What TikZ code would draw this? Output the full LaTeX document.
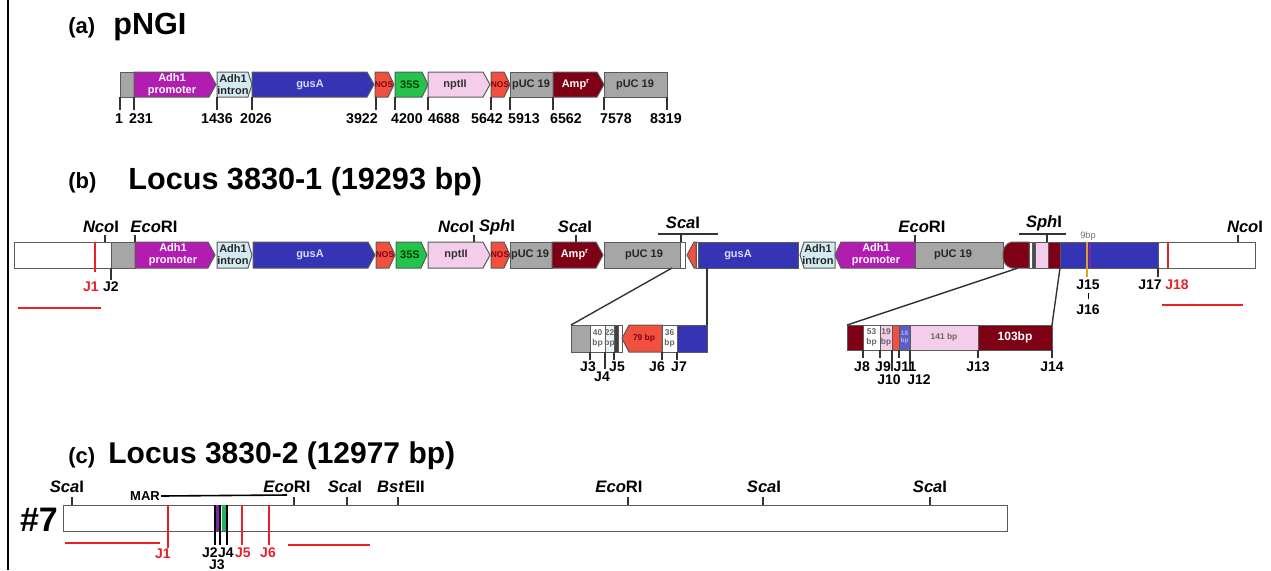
\documentclass[tikz,border=0pt]{standalone}
\usepackage{fontspec}
\setmainfont{Liberation Sans}
\definecolor{outl}{HTML}{5A5A5A}
\definecolor{gbar}{HTML}{A6A6A6}
\definecolor{mag}{HTML}{B21CB0}
\definecolor{intr}{HTML}{D4EAF2}
\definecolor{gus}{HTML}{3434B4}
\definecolor{nos}{HTML}{F2503E}
\definecolor{grn}{HTML}{24C34C}
\definecolor{npt}{HTML}{F3CDEA}
\definecolor{amp}{HTML}{7E0014}
\definecolor{jred}{HTML}{E8202A}
\definecolor{purp}{HTML}{7A2AA0}
\definecolor{cgrn}{HTML}{2AB060}
\definecolor{jor}{HTML}{E0A030}
\newcommand\segB[5]{\filldraw[fill=#5,draw=outl,line width=0.5pt] (#1,#3) rectangle (#2,#4);}
\newcommand\segR[6]{\filldraw[fill=#6,draw=outl,line width=0.5pt] (#1,#3) -- ({#2-#5},#3) -- (#2,{(#3+#4)/2}) -- ({#2-#5},#4) -- (#1,#4) -- cycle;}
\newcommand\segL[6]{\filldraw[fill=#6,draw=outl,line width=0.5pt] (#2,#3) -- ({#1+#5},#3) -- (#1,{(#3+#4)/2}) -- ({#1+#5},#4) -- (#2,#4) -- cycle;}
\begin{document}
\begin{tikzpicture}[x=0.5pt,y=-0.5pt,
  ttl/.style={font=\bfseries\fontsize{15.3}{17}\selectfont, inner sep=0, anchor=west},
  sub/.style={font=\bfseries\fontsize{11}{12}\selectfont, inner sep=0},
  inl/.style={font=\bfseries\fontsize{5.5}{6}\selectfont, inner sep=0, align=center},
  tiny/.style={font=\bfseries\fontsize{4.2}{4.6}\selectfont, inner sep=0, align=center},
  num/.style={font=\bfseries\fontsize{7.1}{8}\selectfont, inner sep=0},
  jl/.style={font=\bfseries\fontsize{7}{8}\selectfont, inner sep=0},
  enz/.style={font=\bfseries\fontsize{8.3}{9}\selectfont, inner sep=0},
  tk/.style={draw=black!80, line width=0.7pt},
  rl/.style={draw=jred, line width=0.8pt},
  cn/.style={draw=black!80, line width=0.7pt}]
\useasboundingbox (0,0) rectangle (1271,570);
\draw[line width=1pt] (8,0) -- (8,570);

% ---------------- (a)
\node[sub, anchor=west] (la) at (68,28) {(a)};
\node[ttl] (ta) at (113,27) {pNGI};
\segB{120}{134}{72}{97}{gbar}
\segR{134}{216}{72}{97}{7}{mag}
\segR{217}{252}{72}{97}{4}{intr}
\segR{252}{374}{72}{97}{7}{gus}
\segR{375}{394}{72}{97}{6}{nos}
\segR{395}{428}{72}{97}{6}{grn}
\segR{428}{490}{72}{97}{7}{npt}
\segR{491}{510}{72}{97}{6}{nos}
\segB{510}{553}{72}{97}{gbar}
\segR{553}{604}{72}{97}{7}{amp}
\segB{604}{667}{72}{97}{gbar}
\node[inl, text=white] (a1) at (172,84.5) {Adh1\\promoter};
\node[inl, text=black!85] (a2) at (233,84.5) {Adh1\\intron};
\node[inl, text=blue!15] (a3) at (310,84.5) {gusA};
\node[tiny, text=amp] (a4) at (384,84.5) {NOS};
\node[inl, text=green!25!black] (a5) at (410,84.5) {35S};
\node[inl, text=black!80] (a6) at (455,84.5) {nptII};
\node[tiny, text=amp] (a7) at (500,84.5) {NOS};
\node[inl, text=black!85] (a8) at (531,84.5) {pUC 19};
\node[inl, text=white] (a9) at (576,84.5) {Amp\textsuperscript{r}};
\node[inl, text=black!85] (a10) at (635,84.5) {pUC 19};
\foreach \x in {120,134,217,252,376,395,428,491,510,553,604,667}
  \draw[tk] (\x,97) -- (\x,110);
\foreach \x/\t in {119/1,141/231,217/1436,256/2026,362/3922,407/4200,444/4688,487/5642,524/5913,566/6562,616/7578,666/8319}
  \node[num] (n\t) at (\x,119) {\t};

% ---------------- (b)
\node[sub, anchor=west] (lb) at (68,183) {(b)};
\node[ttl] (tb) at (128,182) {Locus 3830-1 (19293 bp)};
\segB{14}{111}{242}{268}{white}
\segB{111}{135}{242}{268}{gbar}
\segR{135}{215}{242}{268}{7}{mag}
\segR{217}{252}{242}{268}{4}{intr}
\segR{253}{375}{242}{268}{7}{gus}
\segR{376}{395}{242}{268}{6}{nos}
\segR{396}{427}{242}{268}{6}{grn}
\segR{428}{490}{242}{268}{7}{npt}
\segR{491}{510}{242}{268}{6}{nos}
\segB{510}{552}{242}{268}{gbar}
\segR{552}{603}{242}{268}{7}{amp}
\segB{604}{680}{242}{268}{gbar}
\segB{680}{685}{242}{268}{white}
\segL{687}{696}{242}{268}{7}{nos}
\segB{696}{698}{242}{268}{white}
\segB{698}{798}{242}{268}{gus}
\segL{800}{835}{242}{268}{4}{intr}
\segL{835}{915}{242}{268}{6}{mag}
\segB{915}{1003}{242}{268}{gbar}
\filldraw[fill=amp, draw=outl, line width=0.5pt] (1029,242) -- (1012,242) .. controls (1004,244) and (1003,250) .. (1003,255) .. controls (1003,260) and (1004,266) .. (1012,268) -- (1029,268) -- cycle;
\segB{1029}{1032}{242}{268}{white}
\segB{1032}{1035}{242}{268}{black!70}
\segB{1035}{1048}{242}{268}{npt}
\segB{1048}{1060}{242}{268}{amp}
\segB{1060}{1158}{242}{268}{gus}
\segB{1158}{1255}{242}{268}{white}
\node[inl, text=white] (b1) at (173,255) {Adh1\\promoter};
\node[inl, text=black!85] (b2) at (233,255) {Adh1\\intron};
\node[inl, text=blue!15] (b3) at (310,255) {gusA};
\node[tiny, text=amp] (b4) at (385,255) {NOS};
\node[inl, text=green!25!black] (b5) at (410,255) {35S};
\node[inl, text=black!80] (b6) at (456,255) {nptII};
\node[tiny, text=amp] (b7) at (500,255) {NOS};
\node[inl, text=black!85] (b8) at (530,255) {pUC 19};
\node[inl, text=white] (b9) at (575,255) {Amp\textsuperscript{r}};
\node[inl, text=black!85] (b10) at (644,255) {pUC 19};
\node[inl, text=blue!15] (b11) at (738,255) {gusA};
\node[inl, text=black!85] (b12) at (818,255) {Adh1\\intron};
\node[inl, text=white] (b13) at (876,255) {Adh1\\promoter};
\node[inl, text=black!85] (b14) at (953,255) {pUC 19};
% enzyme sites
\foreach \x in {105,135,474,576,915,1238}
  \draw[tk] (\x,235) -- (\x,242);
\draw[tk] (658,234) -- (718,234);
\draw[tk] (681,234) -- (681,242);
\draw[tk] (1019,234) -- (1066,234);
\draw[tk] (1047,234) -- (1047,242);
\node[enz] (e1) at (101,227) {\textit{Nco}I};
\node[enz] (e2) at (154,227) {\textit{Eco}RI};
\node[enz] (e3) at (456,227) {\textit{Nco}I};
\node[enz] (e4) at (497,227) {\textit{Sph}I};
\node[enz] (e5) at (575,227) {\textit{Sca}I};
\node[enz] (e6) at (683,223) {\textit{Sca}I};
\node[enz] (e7) at (922,227) {\textit{Eco}RI};
\node[enz] (e8) at (1044,223) {\textit{Sph}I};
\node[enz] (e9) at (1245,227) {\textit{Nco}I};
% junctions
\draw[rl] (95,242) -- (95,272);
\draw[tk] (111,268) -- (111,280);
\node[jl, text=jred] (j1) at (91,287) {J1};
\node[jl] (j2) at (111,287) {J2};
\draw[line width=0.8pt, draw=jor] (1087,242) -- (1087,277);
\draw[line width=0.8pt, draw=purp] (1090,242) -- (1090,268);
\node[font=\fontsize{4.6}{5}\selectfont, text=black!55, inner sep=0] (bp9) at (1088,236) {9bp};
\node[jl] (j15) at (1088,285) {J15};
\draw[line width=0.4pt] (1088,293) -- (1088,299);
\node[jl] (j16) at (1088,310) {J16};
\draw[tk] (1158,268) -- (1158,277);
\draw[rl] (1168,242) -- (1168,268);
\node[jl] (j17) at (1150,285) {J17};
\node[jl, text=jred] (j18) at (1177,285) {J18};
\draw[rl, line width=1pt] (18,308) -- (101,308);
\draw[rl, line width=1pt] (1162,305) -- (1243,305);

% left inset
\segB{571}{590}{325}{352}{gbar}
\segB{590}{605}{325}{352}{white}
\segB{605}{614}{325}{352}{intr!50}
\segB{614}{618}{325}{352}{black!75}
\segB{618}{622}{325}{352}{white}
\segL{622}{662}{325}{352}{7}{nos}
\segB{662}{677}{325}{352}{white}
\segB{677}{707}{325}{352}{gus}
\node[tiny, text=black!60] (i1) at (597.5,338.5) {40\\bp};
\node[tiny, text=black!60] (i2) at (609.5,338.5) {22\\bp};
\node[tiny, text=amp] (i3) at (644,338.5) {79 bp};
\node[tiny, text=black!60] (i4) at (669.5,338.5) {36\\bp};
\coordinate (cL1) at (672,268);
\coordinate (cL2) at (707,268);
\coordinate (iL1) at (571,325);
\coordinate (iL2) at (707,325);
\draw[cn] (cL1) -- (iL1);
\draw[cn] (cL2) -- (iL2);
\foreach \x/\y in {590/360,605/369,614/360,662/360,677/360}
  \draw[tk] (\x,352) -- (\x,\y);
\node[jl] (j3) at (588,367) {J3};
\node[jl] (j4) at (602,377) {J4};
\node[jl] (j5) at (617,367) {J5};
\node[jl] (j6) at (657,367) {J6};
\node[jl] (j7) at (679,367) {J7};

% right inset
\segB{847}{863}{325}{350}{amp}
\segB{863}{880}{325}{350}{white}
\segB{880}{892}{325}{350}{npt}
\segB{892}{899}{325}{350}{nos}
\segB{899}{910}{325}{350}{gus!80}
\segB{910}{978}{325}{350}{npt}
\segB{978}{1052}{325}{350}{amp}
\node[tiny, text=black!60] (r1) at (871.5,337.5) {53\\bp};
\node[tiny, text=black!60] (r2) at (886,337.5) {19\\bp};
\node[font=\bfseries\fontsize{3.2}{3.6}\selectfont, inner sep=0, align=center, text=blue!30] (r3) at (904.5,337.5) {18\\bp};
\node[tiny, text=black!60] (r4) at (944,337.5) {141 bp};
\node[font=\bfseries\fontsize{6}{7}\selectfont, inner sep=0, text=white] (r5) at (1015,337.5) {103bp};
\coordinate (cR1) at (1018,268);
\coordinate (cR2) at (1060,268);
\coordinate (iR1) at (847,325);
\coordinate (iR2) at (1052,325);
\draw[cn] (cR1) -- (iR1);
\draw[cn] (cR2) -- (iR2);
\foreach \x/\y in {863/358,880/358,892/371,899/358,910/371,978/358,1052/358}
  \draw[tk] (\x,350) -- (\x,\y);
\node[jl] (j8) at (862,367) {J8};
\node[jl] (j9) at (883,367) {J9};
\node[jl] (j10) at (889,380) {J10};
\node[jl] (j11) at (905,367) {J11};
\node[jl] (j12) at (919,380) {J12};
\node[jl] (j13) at (978,367) {J13};
\node[jl] (j14) at (1052,367) {J14};

% ---------------- (c)
\node[sub, anchor=west] (lc) at (68,458) {(c)};
\node[ttl, font=\bfseries\fontsize{15}{17}\selectfont] (tc) at (108,456) {Locus 3830-2 (12977 bp)};
\node[font=\bfseries\fontsize{17}{19}\selectfont, inner sep=0] (h7) at (39,520) {\#7};
\segB{63}{1007}{505}{531}{white}
\fill[purp] (215,505) rectangle (220,531);
\fill[cgrn] (222,505) rectangle (227,531);
\foreach \x in {215,220,227}
  \draw[line width=0.7pt] (\x,505) -- (\x,545);
\draw[rl] (168,505) -- (168,548);
\draw[rl] (242,505) -- (242,545);
\draw[rl] (269,505) -- (269,545);
\foreach \x in {72,294,347,398,628,763,930}
  \draw[tk] (\x,497) -- (\x,505);
\node[enz] (c1) at (67,487) {\textit{Sca}I};
\node[enz] (c2) at (287,487) {\textit{Eco}RI};
\node[enz] (c3) at (345,487) {\textit{Sca}I};
\node[enz] (c4) at (401,487) {\textit{Bst}EII};
\node[enz] (c5) at (619,487) {\textit{Eco}RI};
\node[enz] (c6) at (764,487) {\textit{Sca}I};
\node[enz] (c7) at (930,487) {\textit{Sca}I};
\node[font=\bfseries\fontsize{6.5}{7}\selectfont, inner sep=0] (mar) at (145,496) {MAR};
\coordinate (marE) at (287,495);
\draw[line width=0.8pt] (mar.east) ++(1,0) -- (marE);
\node[jl, text=jred] (cj1) at (163,554) {J1};
\node[jl] (cj2) at (210,553) {J2};
\node[jl] (cj3) at (217,565) {J3};
\node[jl] (cj4) at (226,553) {J4};
\node[jl, text=jred] (cj5) at (243,553) {J5};
\node[jl, text=jred] (cj6) at (268,553) {J6};
\draw[rl, line width=1pt] (65,543) -- (160,543);
\draw[rl, line width=1pt] (288,545) -- (370,545);
\end{tikzpicture}
\end{document}
